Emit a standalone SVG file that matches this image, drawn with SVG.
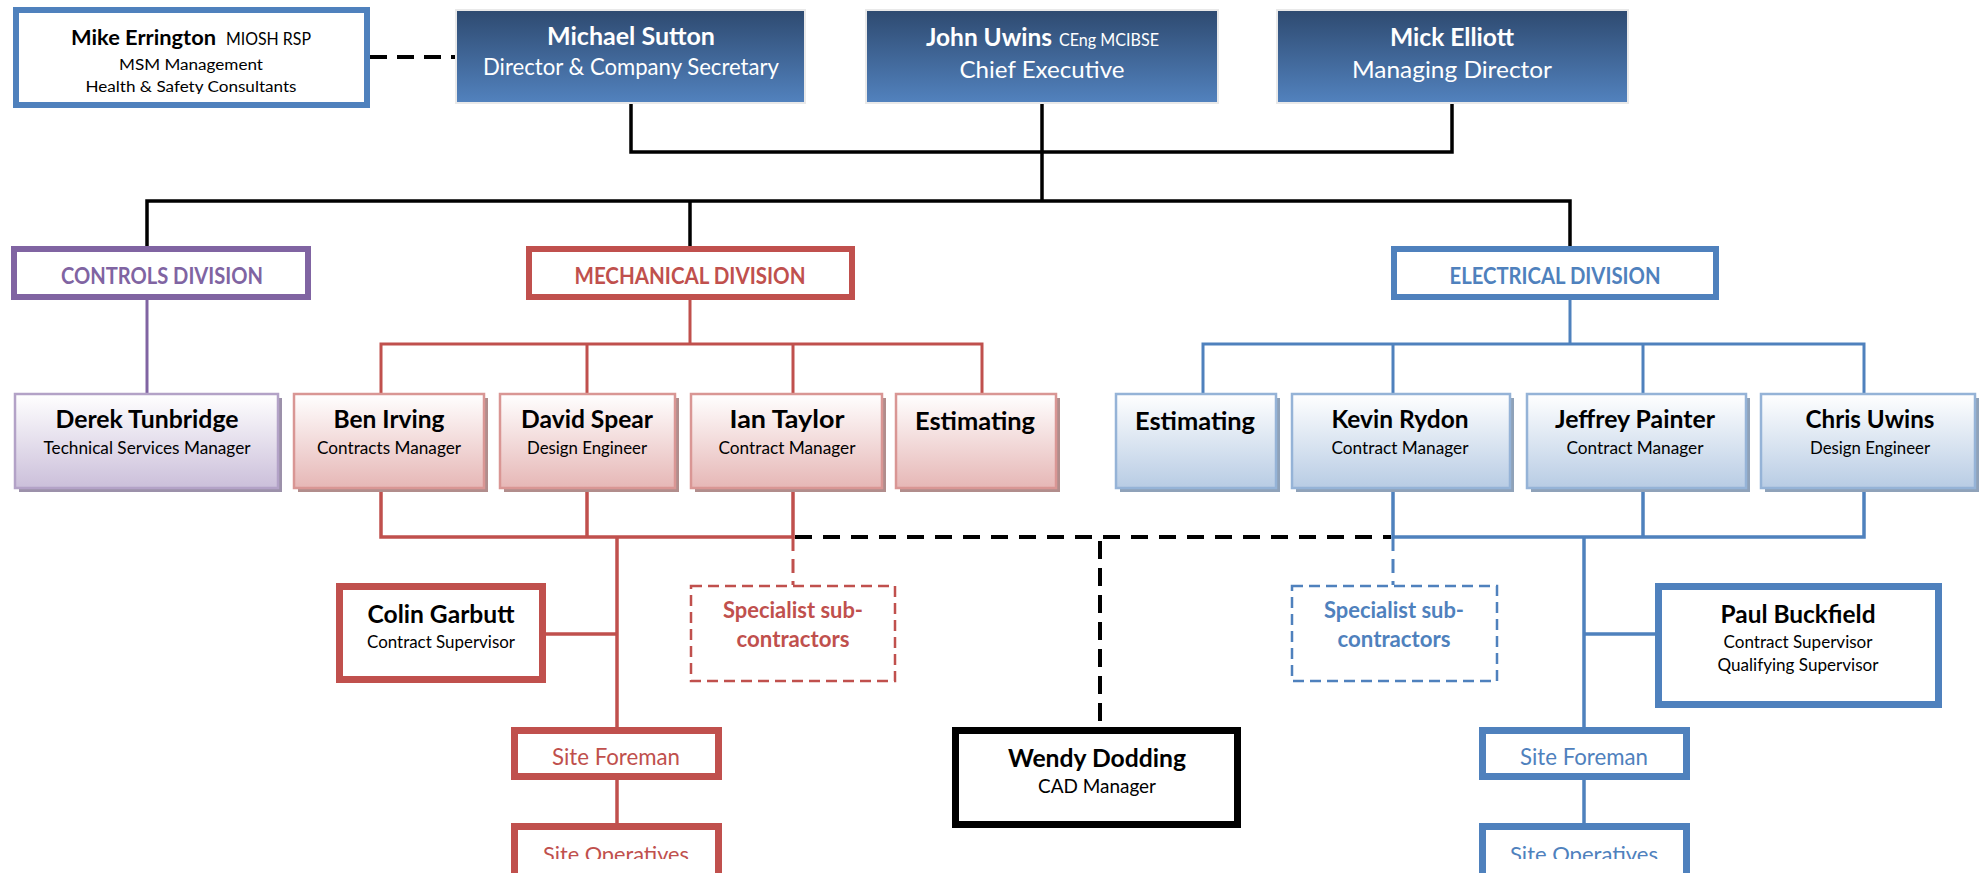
<svg xmlns="http://www.w3.org/2000/svg" width="1982" height="873" viewBox="0 0 1982 873">
<style>
text{font-family:Lato,"Liberation Sans",sans-serif;text-anchor:middle}
.nm{font-weight:700;font-size:24.5px;fill:#000}
.sb{font-weight:400;font-size:17px;fill:#000}
.w{fill:#fff}
.top{fill:url(#topGrad);stroke:#E9E9E9;stroke-width:2}
.div{fill:#fff;stroke-width:6}
.dt{font-weight:700;font-size:22px}
.pur{fill:url(#purGrad);stroke:#B3A2C7;stroke-width:2.5}
.red2{fill:url(#redGrad);stroke:#D99694;stroke-width:2.5}
.blu2{fill:url(#bluGrad);stroke:#95B3D7;stroke-width:2.5}
.shp{fill:#9C91AA}
.shr{fill:#B18D8C}
.shb{fill:#8FA2B9}
.thk{fill:#fff;stroke-width:7}
.spec{fill:#fff;stroke-width:2.5;stroke-dasharray:11 6}
.cR{stroke:#C0504D}
.cB{stroke:#4F81BD}
.cP{stroke:#8064A2}
.tR{fill:#C0504D}
.tB{fill:#4F81BD}
.tP{fill:#8064A2}
#connectors path{fill:none}
</style>
<defs>
<linearGradient id="topGrad" x1="0" y1="0" x2="0" y2="1">
<stop offset="0" stop-color="#2E4A70"/>
<stop offset="1" stop-color="#5282BE"/>
</linearGradient>
<linearGradient id="purGrad" x1="0" y1="0" x2="0" y2="1">
<stop offset="0" stop-color="#FFFFFF"/>
<stop offset="1" stop-color="#CBBFDA"/>
</linearGradient>
<linearGradient id="redGrad" x1="0" y1="0" x2="0" y2="1">
<stop offset="0" stop-color="#FFFFFF"/>
<stop offset="1" stop-color="#E6B7B6"/>
</linearGradient>
<linearGradient id="bluGrad" x1="0" y1="0" x2="0" y2="1">
<stop offset="0" stop-color="#FFFFFF"/>
<stop offset="1" stop-color="#B8CCE4"/>
</linearGradient>
<clipPath id="clipMike" clipPathUnits="userSpaceOnUse"><rect x="19" y="13" width="345" height="81"/></clipPath>
<clipPath id="clipOpsR" clipPathUnits="userSpaceOnUse"><rect x="518" y="830" width="197" height="29"/></clipPath>
<clipPath id="clipOpsB" clipPathUnits="userSpaceOnUse"><rect x="1486" y="830" width="197" height="29"/></clipPath>
</defs>
<rect width="1982" height="873" fill="#fff"/>

<g id="connectors">
<path d="M370,57 H456" stroke="#000" stroke-width="4" stroke-dasharray="17 10"/>
<path d="M631,104 V152 H1452 V104" stroke="#000" stroke-width="3.5"/>
<path d="M1042,104 V201" stroke="#000" stroke-width="3.5"/>
<path d="M147,248 V201 H1570 V248" stroke="#000" stroke-width="3.5"/>
<path d="M690,201 V248" stroke="#000" stroke-width="3.5"/>
<path d="M147,300 V393" class="cP" stroke-width="3"/>
<path d="M690,300 V344 M381,393 V344 H982 V393 M587,344 V393 M793,344 V393" class="cR" stroke-width="3"/>
<path d="M381,489 V537 H793 V489 M587,489 V537 M617,537 V727 M546,634 H617 M617,780 V823" class="cR" stroke-width="3.5"/>
<path d="M793,537 V585" class="cR" stroke-width="3" stroke-dasharray="14 8"/>
<path d="M1570,300 V344 M1203,393 V344 H1864 V393 M1393,344 V393 M1643,344 V393" class="cB" stroke-width="3"/>
<path d="M1393,489 V537 H1864 V489 M1643,489 V537 M1584,537 V727 M1584,634 H1655 M1584,780 V823" class="cB" stroke-width="3.5"/>
<path d="M1393,537 V585" class="cB" stroke-width="3" stroke-dasharray="14 8"/>
<path d="M795,537 H1391" stroke="#000" stroke-width="4" stroke-dasharray="17 11"/>
<path d="M1100,541 V727" stroke="#000" stroke-width="4" stroke-dasharray="18 9"/>
</g>

<g id="mike-errington">
<rect x="16" y="10" width="351" height="95" fill="#fff" stroke="#4F81BD" stroke-width="6"/>
<g clip-path="url(#clipMike)">
<text x="71" y="45" class="nm" style="text-anchor:start;font-size:21.5px" textLength="145" lengthAdjust="spacingAndGlyphs">Mike Errington</text>
<text x="226" y="45" class="sb" style="text-anchor:start" textLength="85" lengthAdjust="spacingAndGlyphs">MIOSH RSP</text>
<text x="191" y="70" class="sb" style="font-size:15.5px" textLength="144" lengthAdjust="spacingAndGlyphs">MSM Management</text>
<text x="191" y="92" class="sb" style="font-size:15.5px" textLength="211" lengthAdjust="spacingAndGlyphs">Health &amp; Safety Consultants</text>
</g>
</g>

<g id="michael-sutton">
<rect x="456" y="10" width="349" height="93" class="top"/>
<text x="631" y="45" class="nm w" textLength="168" lengthAdjust="spacingAndGlyphs">Michael Sutton</text>
<text x="631" y="75" class="sb w" style="font-size:22.5px" textLength="296" lengthAdjust="spacingAndGlyphs">Director &amp; Company Secretary</text>
</g>

<g id="john-uwins">
<rect x="866" y="10" width="352" height="93" class="top"/>
<text x="926" y="46" class="nm w" style="text-anchor:start" textLength="126" lengthAdjust="spacingAndGlyphs">John Uwins</text>
<text x="1059" y="46" class="sb w" style="text-anchor:start" textLength="100" lengthAdjust="spacingAndGlyphs">CEng MCIBSE</text>
<text x="1042" y="78" class="sb w" style="font-size:24px" textLength="165" lengthAdjust="spacingAndGlyphs">Chief Executive</text>
</g>

<g id="mick-elliott">
<rect x="1277" y="10" width="351" height="93" class="top"/>
<text x="1452" y="46" class="nm w" textLength="124" lengthAdjust="spacingAndGlyphs">Mick Elliott</text>
<text x="1452" y="78" class="sb w" style="font-size:24px" textLength="200" lengthAdjust="spacingAndGlyphs">Managing Director</text>
</g>

<g id="controls-division">
<rect x="14" y="249" width="294" height="48" class="div cP"/>
<text x="162" y="284" class="dt tP" textLength="202" lengthAdjust="spacingAndGlyphs">CONTROLS DIVISION</text>
</g>
<g id="mechanical-division">
<rect x="529" y="249" width="323" height="48" class="div cR"/>
<text x="690" y="284" class="dt tR" textLength="231" lengthAdjust="spacingAndGlyphs">MECHANICAL DIVISION</text>
</g>
<g id="electrical-division">
<rect x="1394" y="249" width="322" height="48" class="div cB"/>
<text x="1555" y="284" class="dt tB" textLength="211" lengthAdjust="spacingAndGlyphs">ELECTRICAL DIVISION</text>
</g>

<g id="derek-tunbridge">
<rect x="19" y="398" width="263" height="94" class="shp"/>
<rect x="15" y="394" width="263" height="94" class="pur"/>
<text x="147" y="428" class="nm" textLength="183" lengthAdjust="spacingAndGlyphs">Derek Tunbridge</text>
<text x="147" y="454" class="sb" textLength="207" lengthAdjust="spacingAndGlyphs">Technical Services Manager</text>
</g>
<g id="ben-irving">
<rect x="298" y="398" width="190" height="94" class="shr"/>
<rect x="294" y="394" width="190" height="94" class="red2"/>
<text x="389" y="428" class="nm" textLength="111" lengthAdjust="spacingAndGlyphs">Ben Irving</text>
<text x="389" y="454" class="sb" textLength="144" lengthAdjust="spacingAndGlyphs">Contracts Manager</text>
</g>
<g id="david-spear">
<rect x="504" y="398" width="175" height="94" class="shr"/>
<rect x="500" y="394" width="175" height="94" class="red2"/>
<text x="587" y="428" class="nm" textLength="132" lengthAdjust="spacingAndGlyphs">David Spear</text>
<text x="587" y="454" class="sb" textLength="120" lengthAdjust="spacingAndGlyphs">Design Engineer</text>
</g>
<g id="ian-taylor">
<rect x="695" y="398" width="191" height="94" class="shr"/>
<rect x="691" y="394" width="191" height="94" class="red2"/>
<text x="787" y="428" class="nm" textLength="115" lengthAdjust="spacingAndGlyphs">Ian Taylor</text>
<text x="787" y="454" class="sb" textLength="137" lengthAdjust="spacingAndGlyphs">Contract Manager</text>
</g>
<g id="estimating-mechanical">
<rect x="900" y="398" width="160" height="94" class="shr"/>
<rect x="896" y="394" width="160" height="94" class="red2"/>
<text x="975" y="430" class="nm" textLength="120" lengthAdjust="spacingAndGlyphs">Estimating</text>
</g>
<g id="estimating-electrical">
<rect x="1120" y="398" width="160" height="94" class="shb"/>
<rect x="1116" y="394" width="160" height="94" class="blu2"/>
<text x="1195" y="430" class="nm" textLength="120" lengthAdjust="spacingAndGlyphs">Estimating</text>
</g>
<g id="kevin-rydon">
<rect x="1296" y="398" width="218" height="94" class="shb"/>
<rect x="1292" y="394" width="218" height="94" class="blu2"/>
<text x="1400" y="428" class="nm" textLength="137" lengthAdjust="spacingAndGlyphs">Kevin Rydon</text>
<text x="1400" y="454" class="sb" textLength="137" lengthAdjust="spacingAndGlyphs">Contract Manager</text>
</g>
<g id="jeffrey-painter">
<rect x="1531" y="398" width="219" height="94" class="shb"/>
<rect x="1527" y="394" width="219" height="94" class="blu2"/>
<text x="1635" y="428" class="nm" textLength="160" lengthAdjust="spacingAndGlyphs">Jeffrey Painter</text>
<text x="1635" y="454" class="sb" textLength="137" lengthAdjust="spacingAndGlyphs">Contract Manager</text>
</g>
<g id="chris-uwins">
<rect x="1765" y="398" width="214" height="94" class="shb"/>
<rect x="1761" y="394" width="214" height="94" class="blu2"/>
<text x="1870" y="428" class="nm" textLength="129" lengthAdjust="spacingAndGlyphs">Chris Uwins</text>
<text x="1870" y="454" class="sb" textLength="120" lengthAdjust="spacingAndGlyphs">Design Engineer</text>
</g>

<g id="colin-garbutt">
<rect x="339.5" y="586.5" width="203" height="93" class="thk cR"/>
<text x="441" y="623" class="nm" textLength="147" lengthAdjust="spacingAndGlyphs">Colin Garbutt</text>
<text x="441" y="648" class="sb" textLength="148" lengthAdjust="spacingAndGlyphs">Contract Supervisor</text>
</g>
<g id="specialist-mechanical">
<rect x="691" y="586" width="204" height="95" class="spec cR"/>
<text x="793" y="618" class="dt tR" textLength="140" lengthAdjust="spacingAndGlyphs">Specialist sub-</text>
<text x="793" y="647" class="dt tR" textLength="113" lengthAdjust="spacingAndGlyphs">contractors</text>
</g>
<g id="site-foreman-mechanical">
<rect x="514.5" y="730.5" width="204" height="46" class="thk cR"/>
<text x="616" y="765" class="sb tR" style="font-size:24px" textLength="128" lengthAdjust="spacingAndGlyphs">Site Foreman</text>
</g>
<g id="site-operatives-mechanical">
<rect x="514.5" y="826.5" width="204" height="60" class="thk cR"/>
<text x="616" y="862" class="sb tR" style="font-size:22px" clip-path="url(#clipOpsR)" textLength="146" lengthAdjust="spacingAndGlyphs">Site Operatives</text>
</g>

<g id="wendy-dodding">
<rect x="955.5" y="730.5" width="282" height="94" fill="#fff" stroke="#000" stroke-width="7"/>
<text x="1097" y="767" class="nm" textLength="178" lengthAdjust="spacingAndGlyphs">Wendy Dodding</text>
<text x="1097" y="793" class="sb" style="font-size:19.5px" textLength="118" lengthAdjust="spacingAndGlyphs">CAD Manager</text>
</g>

<g id="specialist-electrical">
<rect x="1292" y="586" width="205" height="95" class="spec cB"/>
<text x="1394" y="618" class="dt tB" textLength="140" lengthAdjust="spacingAndGlyphs">Specialist sub-</text>
<text x="1394" y="647" class="dt tB" textLength="113" lengthAdjust="spacingAndGlyphs">contractors</text>
</g>
<g id="paul-buckfield">
<rect x="1658.5" y="586.5" width="280" height="118" class="thk cB"/>
<text x="1798" y="623" class="nm" textLength="155" lengthAdjust="spacingAndGlyphs">Paul Buckfield</text>
<text x="1798" y="648" class="sb" textLength="149" lengthAdjust="spacingAndGlyphs">Contract Supervisor</text>
<text x="1798" y="671" class="sb" textLength="161" lengthAdjust="spacingAndGlyphs">Qualifying Supervisor</text>
</g>
<g id="site-foreman-electrical">
<rect x="1482.5" y="730.5" width="204" height="46" class="thk cB"/>
<text x="1584" y="765" class="sb tB" style="font-size:24px" textLength="128" lengthAdjust="spacingAndGlyphs">Site Foreman</text>
</g>
<g id="site-operatives-electrical">
<rect x="1482.5" y="826.5" width="204" height="60" class="thk cB"/>
<text x="1584" y="862" class="sb tB" style="font-size:22px" clip-path="url(#clipOpsB)" textLength="148" lengthAdjust="spacingAndGlyphs">Site Operatives</text>
</g>
</svg>
